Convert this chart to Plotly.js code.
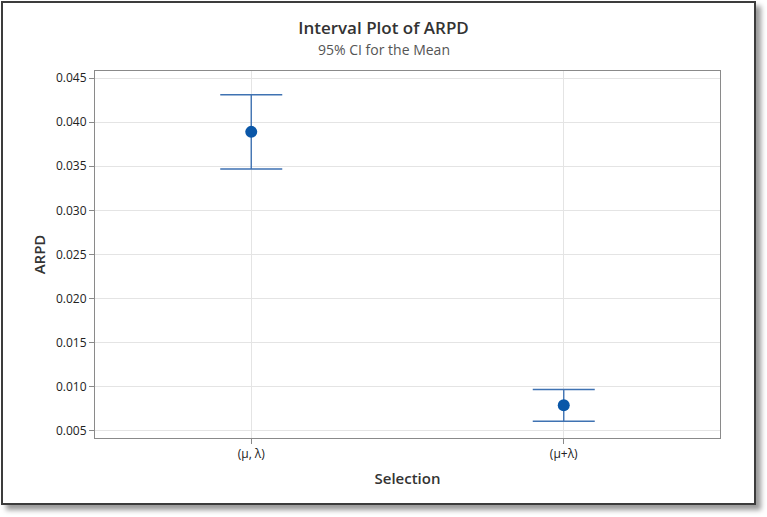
<!DOCTYPE html>
<html>
<head>
<meta charset="utf-8">
<script src="https://cdn.plot.ly/plotly-3.0.1.min.js"></script>
<style>
  html, body { margin: 0; padding: 0; background: #ffffff; }
  #frame { position: absolute; left: 1px; top: 1px; width: 751px; height: 500px;
           border: 2px solid #3c3c3c; box-shadow: 5px 5px 5px #9a9a9a; background: #fff; }
  #chart { position: absolute; left: 0; top: 0; width: 767px; height: 517px; }
</style>
</head>
<body>
<div id="frame"></div>
<div id="chart"></div>
<script>
const categories = ["(μ, λ)", "(μ+λ)"];
const means = [0.0389, 0.0079];
const upperCI = [0.0431, 0.0097];
const lowerCI = [0.0347, 0.0061];
const yTicks = [0.005, 0.010, 0.015, 0.020, 0.025, 0.030, 0.035, 0.040, 0.045];

const plus = upperCI.map((u, i) => u - means[i]);
const minus = lowerCI.map((l, i) => means[i] - l);

const trace = {
  type: "scatter",
  mode: "markers",
  x: categories,
  y: means,
  marker: { color: "#0a57a8", size: 12 },
  error_y: { type: "data", symmetric: false, array: plus, arrayminus: minus,
             color: "#3f72b2", thickness: 1.4, width: 31 },
  hoverinfo: "none"
};

const fontFam = "'Open Sans', 'DejaVu Sans', sans-serif";
const layout = {
  width: 767, height: 517,
  margin: { l: 95, r: 47, t: 71, b: 79 },
  paper_bgcolor: "rgba(0,0,0,0)",
  plot_bgcolor: "#ffffff",
  showlegend: false,
  font: { family: fontFam, color: "#222222", size: 12 },
  title: { text: "Interval Plot of ARPD", x: 0.5, xanchor: "center",
           y: 1 - 28 / 517, yanchor: "middle", yref: "container",
           font: { family: fontFam, size: 17, color: "#333333", weight: 600 } },
  annotations: [
    { text: "95% CI for the Mean", xref: "paper", yref: "paper", x: (383.5 - 95) / 625,
      y: 1 + (71 - 49) / 367, xanchor: "center", yanchor: "middle", showarrow: false,
      font: { family: fontFam, size: 14, color: "#555555" } }
  ],
  xaxis: {
    type: "category",
    range: [-0.5, 1.5],
    showgrid: true, gridcolor: "#e4e4e4",
    showline: true, linecolor: "#8a8a8a", mirror: true, linewidth: 1,
    ticks: "outside", ticklen: 5, tickcolor: "#8a8a8a",
    tickfont: { family: fontFam, size: 12, color: "#222222" },
    title: { text: "Selection", standoff: 12,
             font: { family: fontFam, size: 15, color: "#333333", weight: 600 } },
    zeroline: false
  },
  yaxis: {
    range: [0.0042, 0.0458],
    tickvals: yTicks,
    ticktext: yTicks.map(v => v.toFixed(3)),
    showgrid: true, gridcolor: "#e4e4e4",
    showline: true, linecolor: "#8a8a8a", mirror: true, linewidth: 1,
    ticks: "outside", ticklen: 5, tickcolor: "#8a8a8a",
    tickfont: { family: fontFam, size: 12, color: "#222222" },
    title: { text: "ARPD", standoff: 6,
             font: { family: fontFam, size: 15, color: "#333333", weight: 600 } },
    zeroline: false
  }
};

Plotly.newPlot("chart", [trace], layout, { displayModeBar: false, staticPlot: true });
</script>
</body>
</html>
